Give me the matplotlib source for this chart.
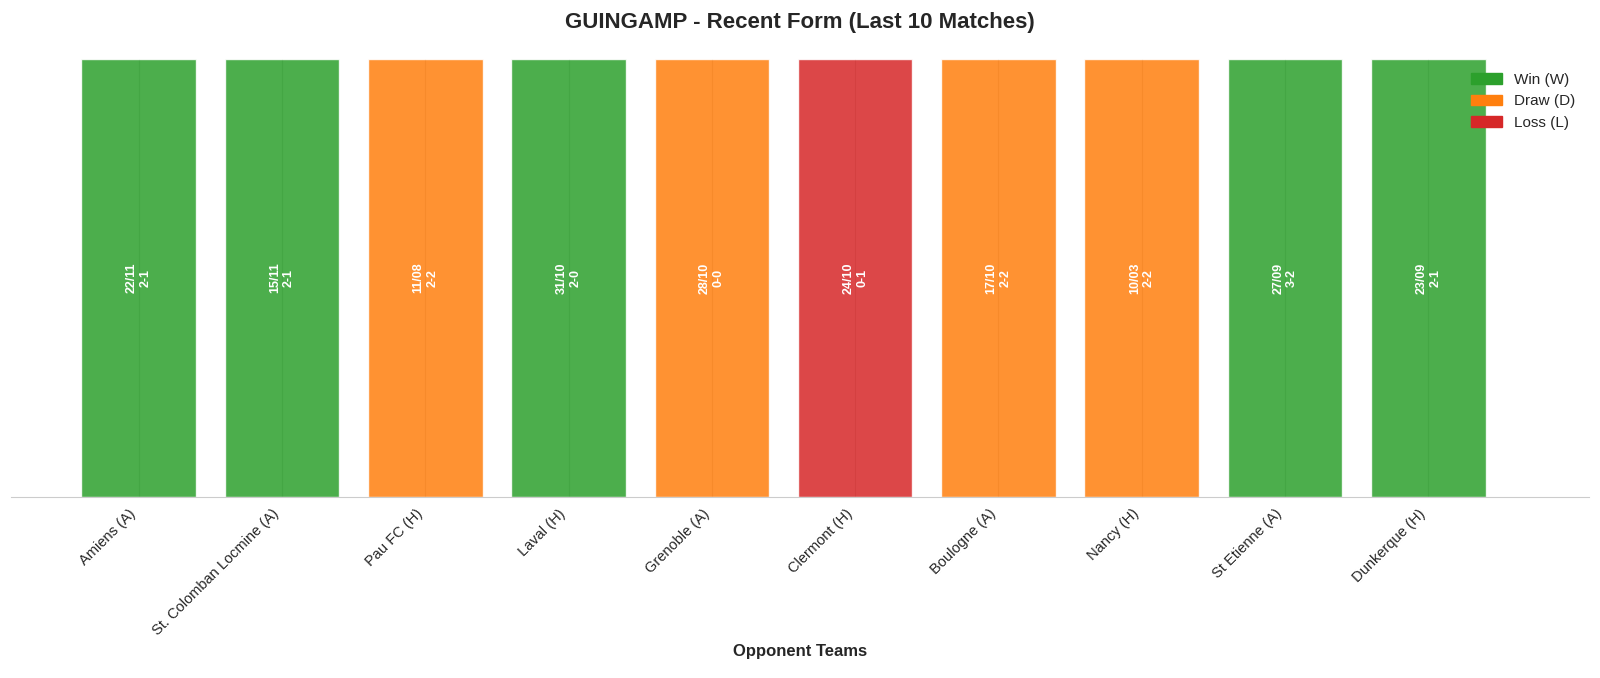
import matplotlib
matplotlib.use('Agg')
import matplotlib.pyplot as plt
from matplotlib.patches import Patch
import seaborn as sns

sns.set_style('whitegrid')
plt.rcParams['font.family'] = ['Liberation Sans', 'DejaVu Sans']

# data
opponents = ['Amiens (A)', 'St. Colomban Locmine (A)', 'Pau FC (H)', 'Laval (H)',
             'Grenoble (A)', 'Clermont (H)', 'Boulogne (A)', 'Nancy (H)',
             'St Etienne (A)', 'Dunkerque (H)']
dates = ['22/11', '15/11', '11/08', '31/10', '28/10', '24/10', '17/10', '10/03', '27/09', '23/09']
scores = ['2-1', '2-1', '2-2', '2-0', '0-0', '0-1', '2-2', '2-2', '3-2', '2-1']
results = ['W', 'W', 'D', 'W', 'D', 'L', 'D', 'D', 'W', 'W']

result_colors = {'W': '#2ca02c', 'D': '#ff7f0e', 'L': '#d62728'}
result_names = {'W': 'Win (W)', 'D': 'Draw (D)', 'L': 'Loss (L)'}

fig, ax = plt.subplots(figsize=(16, 6.78), dpi=100)
x = list(range(len(opponents)))
bars = ax.bar(x, [1] * len(x), width=0.8,
              color=[result_colors[r] for r in results],
              alpha=0.85, edgecolor='white', linewidth=1)

# date + score inside each bar
for xi, d, s in zip(x, dates, scores):
    ax.text(xi, 0.5, f'{d}\n{s}', rotation=90, ha='center', va='center',
            color='white', fontsize=9, fontweight='bold')

ax.set_xticks(x)
ax.set_xticklabels(opponents, rotation=45, ha='right', fontsize=10.5)
ax.set_xlim(-0.89, 10.12)
ax.set_ylim(0, 1)
ax.set_yticks([])
ax.grid(axis='y', visible=False)
for side in ['left', 'right', 'top']:
    ax.spines[side].set_visible(False)
ax.spines['bottom'].set_color('#cccccc')

ax.set_xlabel('Opponent Teams', fontsize=12, fontweight='bold')
ax.set_title('GUINGAMP - Recent Form (Last 10 Matches)', fontsize=16, fontweight='bold', pad=22)

handles = [Patch(color=result_colors[k], label=result_names[k]) for k in ['W', 'D', 'L']]
ax.legend(handles=handles, loc='upper right', frameon=False, fontsize=11)

plt.subplots_adjust(left=0.007, right=0.993, top=0.913, bottom=0.267)
plt.savefig('out.png', dpi=100)
